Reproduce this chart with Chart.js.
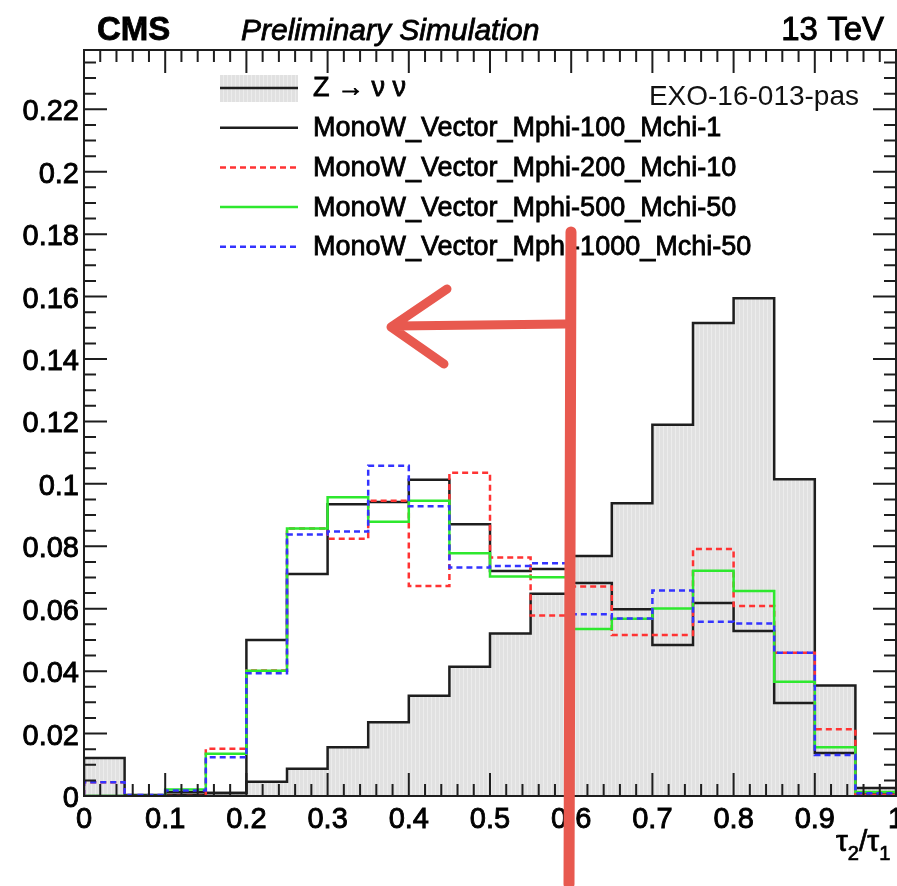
<!DOCTYPE html>
<html>
<head>
<meta charset="utf-8">
<script src="https://cdn.jsdelivr.net/npm/chart.js@4.4.0/dist/chart.umd.min.js"></script>
<style>
  html, body { margin: 0; padding: 0; background: #fff; }
</style>
</head>
<body>
<canvas id="tauChart" width="897" height="886"></canvas>
<script>
// tau2/tau1 bins, 20 bins of width 0.05
const binEdges = [0, 0.05, 0.1, 0.15, 0.2, 0.25, 0.3, 0.35, 0.4, 0.45, 0.5,
                  0.55, 0.6, 0.65, 0.7, 0.75, 0.8, 0.85, 0.9, 0.95, 1];

// normalised bin contents
const zNuNu   = [0.0122, 0.0003, 0.0003, 0.0010, 0.0046, 0.0087, 0.0156, 0.0236, 0.0321, 0.0414,
                 0.0521, 0.0648, 0.0769, 0.0938, 0.1189, 0.1515, 0.1595, 0.1015, 0.0354, 0.0026];
const mphi100 = [0.0000, 0.0000, 0.0012, 0.0010, 0.0500, 0.0711, 0.0935, 0.0942, 0.1013, 0.0871,
                 0.0721, 0.0727, 0.0682, 0.0598, 0.0484, 0.0618, 0.0529, 0.0298, 0.0138, 0.0008];
const mphi200 = [0.0044, 0.0000, 0.0000, 0.0151, 0.0402, 0.0857, 0.0824, 0.0946, 0.0673, 0.1036,
                 0.0764, 0.0578, 0.0671, 0.0516, 0.0516, 0.0791, 0.0609, 0.0459, 0.0214, 0.0004];
const mphi500 = [0.0000, 0.0000, 0.0021, 0.0135, 0.0401, 0.0857, 0.0957, 0.0879, 0.0946, 0.0778,
                 0.0703, 0.0701, 0.0535, 0.0568, 0.0601, 0.0722, 0.0657, 0.0366, 0.0156, 0.0013];
const mphi1000 = [0.0044, 0.0003, 0.0018, 0.0124, 0.0393, 0.0838, 0.0847, 0.1058, 0.0928, 0.0732,
                  0.0737, 0.0746, 0.0582, 0.0569, 0.0658, 0.0558, 0.0553, 0.0459, 0.0131, 0.0009];

const seriesNames = ["Z \u2192 \u03bd \u03bd",
                     "MonoW_Vector_Mphi-100_Mchi-1",
                     "MonoW_Vector_Mphi-200_Mchi-10",
                     "MonoW_Vector_Mphi-500_Mchi-50",
                     "MonoW_Vector_Mphi-1000_Mchi-50"];

const xTicks = [0, 0.1, 0.2, 0.3, 0.4, 0.5, 0.6, 0.7, 0.8, 0.9, 1];
const yTicks = [0, 0.02, 0.04, 0.06, 0.08, 0.1, 0.12, 0.14, 0.16, 0.18, 0.2, 0.22];
const yMax = 0.239;

const FONT = "'Liberation Sans', Arial, Helvetica, sans-serif";

// histogram outline: one point per bin low edge, closed down to zero at both ends
function stepPoints(values) {
    const pts = [{ x: binEdges[0], y: 0 }];
    values.forEach((v, i) => pts.push({ x: binEdges[i], y: v }));
    const last = binEdges[values.length];
    pts.push({ x: last, y: values[values.length - 1] });
    pts.push({ x: last, y: 0 });
    return pts;
}

// light grey fill with faint vertical stripes, like the ROOT fill style
function stripePattern() {
    const c = document.createElement("canvas");
    c.width = 4; c.height = 4;
    const g = c.getContext("2d");
    g.fillStyle = "#e1e1e1"; g.fillRect(0, 0, 4, 4);
    g.fillStyle = "#ececec"; g.fillRect(3, 0, 1, 4);
    return g.createPattern(c, "repeat");
}
const greyFill = stripePattern();

function fmt(v) { return String(parseFloat(Number(v).toFixed(3))); }

// text with a thin outline so it reads as heavy as the ROOT screenshot
function heavyText(ctx, s, x, y, w) {
    ctx.lineWidth = w;
    ctx.strokeStyle = ctx.fillStyle;
    ctx.strokeText(s, x, y);
    ctx.fillText(s, x, y);
}

// inside ticks on all four sides + frame
const rootFrame = {
    id: "rootFrame",
    afterDatasetsDraw(chart) {
        const { ctx, chartArea: a, scales: { x, y } } = chart;
        ctx.save();
        ctx.strokeStyle = "#1e1e1e";
        ctx.lineWidth = 2;
        ctx.beginPath();
        for (let i = 0; i <= 50; i++) {
            const px = x.getPixelForValue(i * 0.02);
            const len = i % 5 === 0 ? 23 : 12;
            ctx.moveTo(px, a.bottom); ctx.lineTo(px, a.bottom - len);
            ctx.moveTo(px, a.top); ctx.lineTo(px, a.top + len);
        }
        for (let i = 0; i * 0.005 <= yMax + 1e-9; i++) {
            const py = y.getPixelForValue(i * 0.005);
            const len = i % 4 === 0 ? 23 : 12;
            ctx.moveTo(a.left, py); ctx.lineTo(a.left + len, py);
            ctx.moveTo(a.right, py); ctx.lineTo(a.right - len, py);
        }
        ctx.stroke();
        ctx.strokeRect(a.left, a.top, a.right - a.left, a.bottom - a.top);
        ctx.restore();
    }
};

// CMS header, legend, axis title, note and the red hand-drawn cut marker
const overlay = {
    id: "overlay",
    afterDraw(chart) {
        const ctx = chart.ctx;
        ctx.save();
        ctx.fillStyle = "#000";
        ctx.textBaseline = "alphabetic";
        ctx.font = "bold 33px " + FONT;
        ctx.textAlign = "left";
        heavyText(ctx, "CMS", 97, 40, 0.8);
        ctx.font = "italic 30px " + FONT;
        heavyText(ctx, "Preliminary Simulation", 241, 40, 0.8);
        ctx.font = "33px " + FONT;
        ctx.textAlign = "right";
        heavyText(ctx, "13 TeV", 884, 40, 0.9);
        ctx.font = "28px " + FONT;
        ctx.fillStyle = "#111";
        ctx.fillText("EXO-16-013-pas", 859, 105);

        // x axis title tau2/tau1 with real subscripts
        ctx.fillStyle = "#000";
        ctx.textAlign = "left";
        let tx0 = 836;
        [["\u03c4", 30, 0], ["2", 20, 9], ["/", 30, 0], ["\u03c4", 30, 0], ["1", 20, 9]].forEach(([s, size, dy]) => {
            ctx.font = size + "px " + FONT;
            heavyText(ctx, s, tx0, 851 + dy, 0.7);
            tx0 += ctx.measureText(s).width;
        });

        // legend
        const ds = chart.data.datasets;
        const x0 = 220, x1 = 298, tx = 313;
        ds.forEach((d, i) => {
            const yy = 88 + i * 39.7;
            if (d.fill) {
                ctx.fillStyle = greyFill;
                ctx.fillRect(x0, yy - 13, x1 - x0, 27);
            }
            ctx.beginPath();
            ctx.strokeStyle = d.borderColor;
            ctx.lineWidth = d.borderWidth;
            ctx.setLineDash(d.borderDash || []);
            ctx.moveTo(x0, yy); ctx.lineTo(x1, yy);
            ctx.stroke();
            ctx.setLineDash([]);
            ctx.fillStyle = "#000";
            ctx.font = "27px " + FONT;
            ctx.textAlign = "left";
            ctx.textBaseline = "middle";
            heavyText(ctx, d.label, tx, yy + 1, 0.8);
        });

        // red marker: vertical cut line and arrow to the left
        ctx.strokeStyle = "#e8594f";
        ctx.lineCap = "round";
        ctx.lineJoin = "round";
        ctx.lineWidth = 11;
        ctx.beginPath();
        ctx.moveTo(571, 232); ctx.lineTo(569, 884);
        ctx.stroke();
        ctx.lineWidth = 9;
        ctx.beginPath();
        ctx.moveTo(565, 324); ctx.lineTo(396, 326);
        ctx.moveTo(447, 289); ctx.lineTo(391, 327); ctx.lineTo(444, 364);
        ctx.stroke();
        ctx.restore();
    }
};

const lineBase = { stepped: "before", fill: false, pointRadius: 0, borderWidth: 2.5,
                   borderJoinStyle: "miter", borderCapStyle: "butt" };

const tickFont = { family: FONT, size: 29 };

new Chart(document.getElementById("tauChart").getContext("2d"), {
    type: "line",
    data: {
        datasets: [
            { ...lineBase, label: seriesNames[0], data: stepPoints(zNuNu),
              borderColor: "#1e1e1e", backgroundColor: greyFill, fill: "origin", order: 5 },
            { ...lineBase, label: seriesNames[1], data: stepPoints(mphi100),
              borderColor: "#1e1e1e", order: 4 },
            { ...lineBase, label: seriesNames[2], data: stepPoints(mphi200),
              borderColor: "#ff3333", borderDash: [6, 4], order: 3 },
            { ...lineBase, label: seriesNames[3], data: stepPoints(mphi500),
              borderColor: "#2ee82e", order: 2 },
            { ...lineBase, label: seriesNames[4], data: stepPoints(mphi1000),
              borderColor: "#3333ff", borderDash: [6, 4], order: 1 },
        ],
    },
    options: {
        responsive: false,
        animation: false,
        layout: { padding: { top: 50, right: 1, left: 0, bottom: 0 } },
        plugins: { legend: { display: false }, tooltip: { enabled: false } },
        scales: {
            x: {
                type: "linear", min: 0, max: 1,
                grid: { display: false, drawTicks: false }, border: { display: false },
                afterBuildTicks: s => { s.ticks = xTicks.map(v => ({ value: v })); },
                afterFit: s => { s.height = 90; s.paddingLeft = 0; s.paddingRight = 0; },
                ticks: { autoSkip: false, maxRotation: 0, padding: 7, color: "#000",
                         textStrokeColor: "#000", textStrokeWidth: 0.9,
                         font: tickFont, callback: v => fmt(v) },
            },
            y: {
                type: "linear", min: 0, max: yMax,
                grid: { display: false, drawTicks: false }, border: { display: false },
                afterBuildTicks: s => { s.ticks = yTicks.map(v => ({ value: v })); },
                afterFit: s => { s.width = 84; s.paddingTop = 0; s.paddingBottom = 0; },
                ticks: { padding: 5, labelOffset: 3, color: "#000",
                         textStrokeColor: "#000", textStrokeWidth: 0.9,
                         font: tickFont, callback: v => fmt(v) },
            },
        },
    },
    plugins: [rootFrame, overlay],
});
</script>
</body>
</html>
